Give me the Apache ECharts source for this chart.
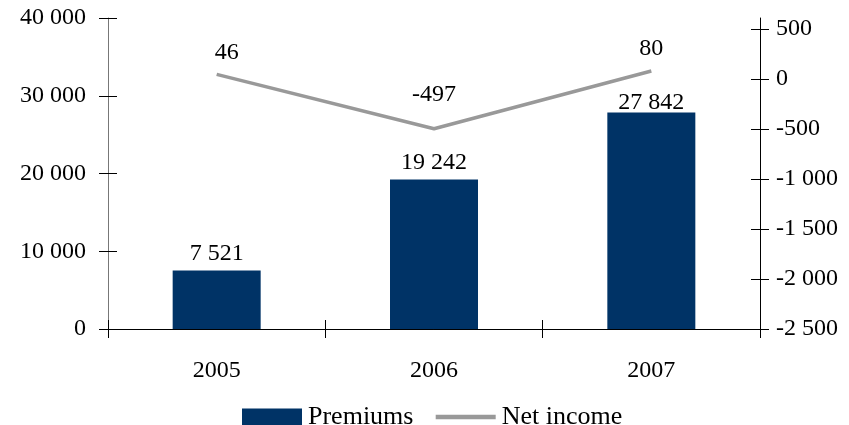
<!DOCTYPE html>
<html><head><meta charset="utf-8">
<script src="https://cdn.jsdelivr.net/npm/echarts@6/dist/echarts.min.js"></script>
<style>html,body{margin:0;padding:0;background:#fff}#c{width:849px;height:425px}</style>
</head><body><div id="c"></div>
<script>
const categories = ['2005', '2006', '2007'];
const premiums = [7521, 19242, 27842];
const netIncome = [46, -497, 80];
const leftTicks = [0, 10000, 20000, 30000, 40000];
const rightTicks = [-2500, -2000, -1500, -1000, -500, 0, 500];

const FONT = 'Liberation Serif';
const fmt = v => {
  const s = Math.abs(v).toString().replace(/\B(?=(\d{3})+(?!\d))/g, ' ');
  return (v < 0 ? '-' : '') + s;
};
const txt = {fontFamily: FONT, fontSize: 24, color: '#000'};

const chart = echarts.init(document.getElementById('c'), null, {renderer: 'canvas'});
const grid = {left: 108, right: 89, top: 18, bottom: 96, containLabel: false};

const leftBase = {type: 'value', min: leftTicks[0], max: leftTicks[leftTicks.length - 1], interval: 10000, position: 'left', splitLine: {show: false}};
const rightBase = {type: 'value', min: -2500, max: 610, position: 'right', splitLine: {show: false}};

chart.setOption({
  animation: false,
  backgroundColor: '#fff',
  grid: grid,
  legend: {
    left: 242, top: 404, padding: 0,
    itemWidth: 60, itemHeight: 17, itemGap: 20,
    textStyle: {fontFamily: FONT, fontSize: 26, color: '#000', padding: [0, 0, 0, 1]},
    data: [{name: 'Premiums', icon: 'rect'},
           {name: 'Net income', itemStyle: {opacity: 0}, lineStyle: {width: 4.5, color: '#999999'}}]
  },
  xAxis: [
    {type: 'category', data: categories, position: 'bottom',
     axisLine: {onZero: false, lineStyle: {color: '#000', width: 1}},
     axisTick: {show: true, length: 9, inside: false, lineStyle: {color: '#000'}},
     axisLabel: Object.assign({margin: 30}, txt)},
    {type: 'category', data: categories, position: 'bottom', offset: 0,
     axisLine: {show: false, onZero: false},
     axisTick: {show: true, length: 9, inside: true, lineStyle: {color: '#000'}},
     axisLabel: {show: false}}
  ],
  yAxis: [
    Object.assign({}, leftBase, {
      axisLine: {show: true, onZero: false, lineStyle: {color: '#777', width: 1}},
      axisTick: {show: true, length: 9, lineStyle: {color: '#000'}},
      axisLabel: Object.assign({margin: 22, formatter: fmt}, txt)}),
    Object.assign({}, rightBase, {
      axisLine: {show: true, onZero: false, lineStyle: {color: '#000', width: 1}},
      axisTick: {show: true, length: 9, customValues: rightTicks, lineStyle: {color: '#000'}},
      axisLabel: Object.assign({margin: 16, formatter: fmt, customValues: rightTicks}, txt)}),
    Object.assign({}, leftBase, {
      axisLine: {show: false, onZero: false},
      axisTick: {show: true, length: 9, inside: true, lineStyle: {color: '#000'}},
      axisLabel: {show: false}}),
    Object.assign({}, rightBase, {
      axisLine: {show: false, onZero: false},
      axisTick: {show: true, length: 9, inside: true, customValues: rightTicks, lineStyle: {color: '#000'}},
      axisLabel: {show: false}})
  ],
  series: [
    {name: 'Premiums', type: 'bar', xAxisIndex: 0, yAxisIndex: 0, barWidth: 88,
     itemStyle: {color: '#003366'},
     label: Object.assign({show: true, position: 'top', distance: 5, formatter: p => fmt(p.value)}, txt),
     data: premiums.map((v, i) => i === 2 ? {value: v, label: {distance: -2}} : v)},
    {name: 'Net income', type: 'line', xAxisIndex: 0, yAxisIndex: 1,
     symbol: 'circle', symbolSize: 0.01, showSymbol: true,
     lineStyle: {color: '#999999', width: 3.5},
     itemStyle: {color: '#999999', opacity: 1},
     label: Object.assign({show: true, position: 'top', distance: 10, formatter: p => fmt(p.value)}, txt, {color: '#000', opacity: 1}),
     data: netIncome.map((v, i) => i === 1 ? {value: v, label: {distance: 22}} : (i === 0 ? {value: v, label: {offset: [10, 0]}} : v))}
  ]
});
</script></body></html>
